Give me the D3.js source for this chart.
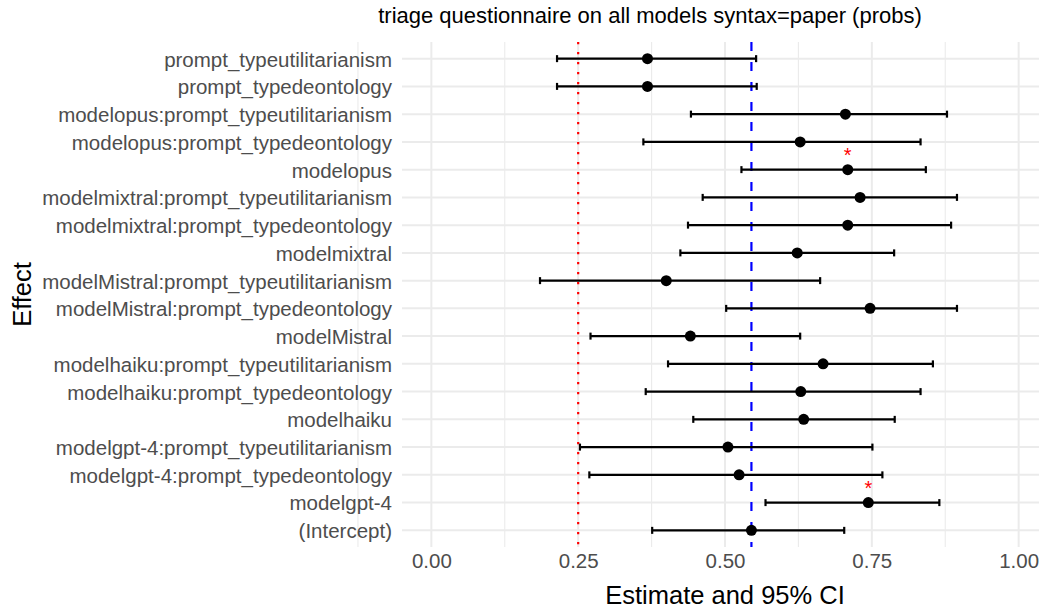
<!DOCTYPE html>
<html>
<head>
<meta charset="utf-8">
<script src="https://cdn.jsdelivr.net/npm/d3@7"></script>
<style>
  body { margin: 0; background: #fff; }
  text { font-family: "Liberation Sans", Arial, sans-serif; }
</style>
</head>
<body>
<div class="forest"></div>
<script>

// rows from top to bottom
var effects = [
  "prompt_typeutilitarianism",
  "prompt_typedeontology",
  "modelopus:prompt_typeutilitarianism",
  "modelopus:prompt_typedeontology",
  "modelopus",
  "modelmixtral:prompt_typeutilitarianism",
  "modelmixtral:prompt_typedeontology",
  "modelmixtral",
  "modelMistral:prompt_typeutilitarianism",
  "modelMistral:prompt_typedeontology",
  "modelMistral",
  "modelhaiku:prompt_typeutilitarianism",
  "modelhaiku:prompt_typedeontology",
  "modelhaiku",
  "modelgpt-4:prompt_typeutilitarianism",
  "modelgpt-4:prompt_typedeontology",
  "modelgpt-4",
  "(Intercept)"
];

var estimates = [0.368, 0.368, 0.705, 0.628, 0.709, 0.730, 0.709, 0.623, 0.400,
  0.747, 0.441, 0.667, 0.629, 0.634, 0.505, 0.524, 0.744, 0.545];
var ciLow = [0.214, 0.214, 0.442, 0.361, 0.528, 0.462, 0.437, 0.424, 0.185,
  0.502, 0.271, 0.403, 0.365, 0.446, 0.253, 0.269, 0.569, 0.376];
var ciHigh = [0.553, 0.554, 0.878, 0.833, 0.842, 0.895, 0.885, 0.788, 0.662,
  0.895, 0.628, 0.854, 0.833, 0.789, 0.751, 0.768, 0.865, 0.703];
var significant = ["modelopus", "modelgpt-4"];

var xTicks = [0, 0.25, 0.5, 0.75, 1];
var chanceLevel = 0.25;
var interceptLevel = 0.545;

var rows = effects.map(function (d, i) {
  return { effect: d, est: estimates[i], lo: ciLow[i], hi: ciHigh[i] };
});

var svgWidth = 1039, svgHeight = 610;
var panel = { left: 402, right: 1048, top: 42, bottom: 547 };

var svg = d3.select(".forest")
  .append("svg")
  .attr("width", svgWidth)
  .attr("height", svgHeight);

var x = d3.scaleLinear()
  .domain([-0.05, 1.05])
  .range([panel.left, panel.right]);

var y = d3.scalePoint()
  .domain(effects)
  .range([panel.top, panel.bottom])
  .padding(0.6);

// grid
var grid = svg.append("g").attr("class", "grid");
var minorTicks = d3.range(-0.125, 1.126, 0.125).filter(function (t) {
  return Math.abs(t * 4 - Math.round(t * 4)) > 1e-6;
});
grid.selectAll(".minor")
  .data(minorTicks)
  .join("line")
  .attr("x1", d => x(d)).attr("x2", d => x(d))
  .attr("y1", panel.top).attr("y2", panel.bottom)
  .attr("stroke", "#ebebeb")
  .attr("stroke-width", 1.1);
grid.selectAll(".major")
  .data(xTicks)
  .join("line")
  .attr("x1", d => x(d)).attr("x2", d => x(d))
  .attr("y1", panel.top).attr("y2", panel.bottom)
  .attr("stroke", "#ebebeb")
  .attr("stroke-width", 2);
grid.selectAll(".hrow")
  .data(effects)
  .join("line")
  .attr("x1", panel.left).attr("x2", panel.right)
  .attr("y1", d => y(d)).attr("y2", d => y(d))
  .attr("stroke", "#ebebeb")
  .attr("stroke-width", 2);

// reference lines
svg.append("line")
  .attr("x1", x(chanceLevel)).attr("x2", x(chanceLevel))
  .attr("y1", panel.top).attr("y2", panel.bottom)
  .attr("stroke", "#ff0000")
  .attr("stroke-width", 2.2)
  .attr("stroke-dasharray", "2.2,7.8");

svg.append("line")
  .attr("x1", x(interceptLevel)).attr("x2", x(interceptLevel))
  .attr("y1", panel.top).attr("y2", panel.bottom)
  .attr("stroke", "#0000ff")
  .attr("stroke-width", 2.2)
  .attr("stroke-dasharray", "9,11");

// error bars
var bars = svg.append("g").attr("class", "bars")
  .selectAll("g")
  .data(rows)
  .join("g");

bars.append("line")
  .attr("x1", d => x(d.lo)).attr("x2", d => x(d.hi))
  .attr("y1", d => y(d.effect)).attr("y2", d => y(d.effect))
  .attr("stroke", "#000")
  .attr("stroke-width", 2.2);

bars.append("line")
  .attr("x1", d => x(d.lo)).attr("x2", d => x(d.lo))
  .attr("y1", d => y(d.effect) - 3.5).attr("y2", d => y(d.effect) + 3.5)
  .attr("stroke", "#000")
  .attr("stroke-width", 2.2);

bars.append("line")
  .attr("x1", d => x(d.hi)).attr("x2", d => x(d.hi))
  .attr("y1", d => y(d.effect) - 3.5).attr("y2", d => y(d.effect) + 3.5)
  .attr("stroke", "#000")
  .attr("stroke-width", 2.2);

bars.append("circle")
  .attr("cx", d => x(d.est))
  .attr("cy", d => y(d.effect))
  .attr("r", 5.5)
  .attr("fill", "#000");

// significance stars
svg.append("g")
  .selectAll("text")
  .data(rows.filter(d => significant.indexOf(d.effect) >= 0))
  .join("text")
  .attr("x", d => x(d.est))
  .attr("y", d => y(d.effect) - 8)
  .attr("text-anchor", "middle")
  .style("font-size", "20px")
  .style("fill", "#ff0000")
  .text("*");

// axes
var yAxis = svg.append("g")
  .attr("transform", "translate(" + (panel.left - 10) + ",0)")
  .call(d3.axisLeft(y).tickSize(0).tickPadding(0));
yAxis.select(".domain").remove();
yAxis.selectAll("text")
  .style("font-size", "20.5px")
  .style("fill", "#4d4d4d")
  .attr("dy", "0.36em");

var xAxis = svg.append("g")
  .attr("transform", "translate(0," + (panel.bottom + 6) + ")")
  .call(d3.axisBottom(x).tickValues(xTicks).tickFormat(d3.format(".2f")).tickSize(0).tickPadding(0));
xAxis.select(".domain").remove();
xAxis.selectAll("text")
  .style("font-size", "20.5px")
  .style("fill", "#4d4d4d")
  .attr("dy", "0.71em");

// titles
svg.append("text")
  .attr("x", 650)
  .attr("y", 23)
  .attr("text-anchor", "middle")
  .style("font-size", "22px")
  .style("fill", "#000")
  .text("triage questionnaire on all models syntax=paper (probs)");

svg.append("text")
  .attr("x", (panel.left + panel.right) / 2)
  .attr("y", 604)
  .attr("text-anchor", "middle")
  .style("font-size", "25.5px")
  .style("fill", "#000")
  .text("Estimate and 95% CI");

svg.append("text")
  .attr("transform", "translate(31," + ((panel.top + panel.bottom) / 2) + ") rotate(-90)")
  .attr("text-anchor", "middle")
  .style("font-size", "25.5px")
  .style("fill", "#000")
  .text("Effect");

</script>
</body>
</html>
